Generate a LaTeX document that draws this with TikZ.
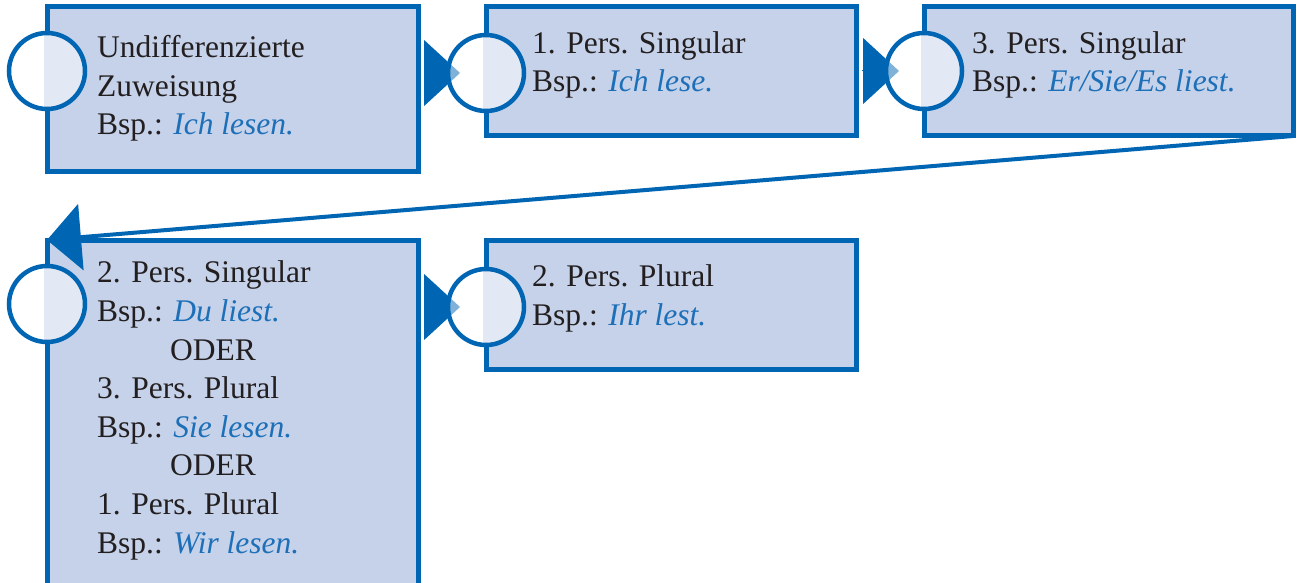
\documentclass[tikz,border=0pt]{standalone}
\usepackage{fontspec}
\setmainfont{Liberation Serif}
\usetikzlibrary{arrows.meta}
\definecolor{boxblue}{HTML}{0066B3}
\definecolor{boxfill}{HTML}{C5D2EA}
\definecolor{boxpale}{HTML}{E2E8F4}
\definecolor{inktext}{HTML}{231F20}
\definecolor{exblue}{HTML}{1D6FB8}
\tikzset{>=Stealth,
  stepbox/.style={rectangle,draw=boxblue,line width=5pt,fill=boxfill,
    inner sep=0pt,outer sep=0pt,anchor=north west},
  knob/.style={circle,draw=boxblue,line width=4.5pt,fill=white,
    fill opacity=.5,minimum size=76pt,inner sep=0pt,
    path picture={\fill[boxpale,fill opacity=1]
      ([xshift=-2.6pt]path picture bounding box.north) rectangle
      (path picture bounding box.south east);}},
  boxtext/.style={font=\fontsize{31.5}{38.6}\selectfont,text=inktext,
    align=left,inner sep=0pt,anchor=base west},
  flow/.style={draw=boxblue,fill=boxblue,line width=1pt,shorten <=6pt,
    -{Triangle[length=36pt,width=66pt]}},
  backflow/.style={draw=boxblue,line width=4pt,
    -{Triangle[length=34pt,width=66pt]}}
}
\newcommand*{\bspx}[1]{Bsp.: {\color{exblue}\itshape #1}}

\begin{document}
\begin{tikzpicture}[x=1pt,y=-1pt]
\useasboundingbox (0,0) rectangle (1298,583);

% Draw boxes
\node[stepbox,minimum width=371pt,minimum height=164pt] (b1) at (47,7)   {};
\node[stepbox,minimum width=370pt,minimum height=129pt] (b2) at (486,7)  {};
\node[stepbox,minimum width=369pt,minimum height=129pt] (b3) at (924,7)  {};
\node[stepbox,minimum width=371pt,minimum height=350pt] (b4) at (47,240) {};
\node[stepbox,minimum width=370pt,minimum height=129pt] (b5) at (486,240) {};

% Circles on the left edges
\coordinate (k1) at (47,71);
\coordinate (k2) at (486,73);
\coordinate (k3) at (924,71);
\coordinate (k4) at (47,304);
\coordinate (k5) at (486,307);

% Arrows between boxes
\draw[flow] (b1.east |- k2) -- ([xshift=-26pt]k2);
\draw[flow] (b2.east |- k3) -- ([xshift=-25pt]k3);
\draw[flow] (b4.east |- k5) -- ([xshift=-26pt]k5);
\draw[backflow] (b3.south east) -- (b4.north west);

\foreach \k in {k1,k2,k3,k4,k5}
  \node[knob] (c-\k) at (\k) {};

% Texts (placed at the baseline of the last line)
\node[boxtext] (t1) at (97,135)
  {Undifferenzierte\\Zuweisung\\\bspx{Ich lesen.}};
\node[boxtext] (t2) at (532,92)
  {1. Pers. Singular\\\bspx{Ich lese.}};
\node[boxtext] (t3) at (972,92)
  {3. Pers. Singular\\\bspx{Er/Sie/Es liest.}};
\node[boxtext] (t4) at (97,553)
  {2. Pers. Singular\\\bspx{Du liest.}\\\hspace*{73pt}ODER\\
   3. Pers. Plural\\\bspx{Sie lesen.}\\\hspace*{73pt}ODER\\
   1. Pers. Plural\\\bspx{Wir lesen.}};
\node[boxtext] (t5) at (532,325)
  {2. Pers. Plural\\\bspx{Ihr lest.}};
\end{tikzpicture}
\end{document}
